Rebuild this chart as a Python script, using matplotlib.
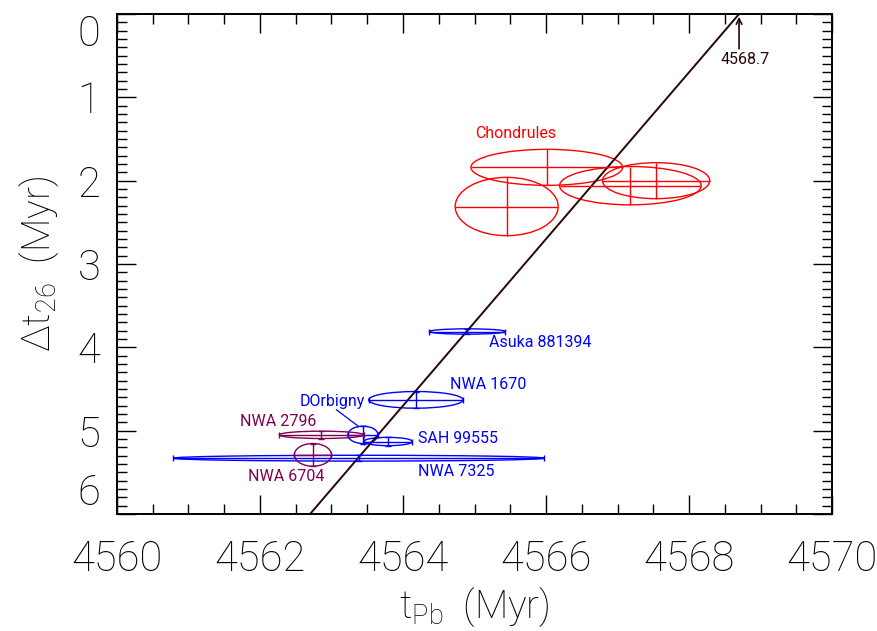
import numpy as np
import matplotlib
matplotlib.use("Agg")
import matplotlib.pyplot as plt
from matplotlib.patches import Ellipse
from matplotlib.ticker import MultipleLocator

plt.rcParams["font.family"] = ["Roboto", "DejaVu Sans"]
plt.rcParams["font.weight"] = "light"
plt.rcParams["axes.labelweight"] = "light"
plt.rcParams["mathtext.default"] = "regular"

# chondrules (red)
chon_tpb = [4566.01, 4565.45, 4567.18, 4567.54]
chon_dt = [1.84, 2.31, 2.06, 2.00]
chon_tpb_err = [1.06, 0.72, 0.99, 0.75]
chon_dt_err = [0.216, 0.35, 0.23, 0.216]

# angrites (blue)
blue_names = ["Asuka 881394", "NWA 1670", "DOrbigny", "SAH 99555", "NWA 7325"]
blue_tpb = [4564.90, 4564.18, 4563.44, 4563.79, 4563.38]
blue_dt = [3.81, 4.63, 5.05, 5.13, 5.33]
blue_tpb_err = [0.53, 0.66, 0.21, 0.34, 2.59]
blue_dt_err = [0.032, 0.10, 0.104, 0.05, 0.035]

# ungrouped achondrites (purple)
purple_names = ["NWA 2796", "NWA 6704"]
purple_tpb = [4562.86, 4562.74]
purple_dt = [5.05, 5.29]
purple_tpb_err = [0.59, 0.26]
purple_dt_err = [0.044, 0.136]

t_cai = 4568.7
line_dt = np.array([0.0, 6.0])
y_ticks = [0, 1, 2, 3, 4, 5, 6]

RED = "#ff0000"
BLUE = "#0000ff"
PURPLE = "#800055"
DARK = "#2a0505"


def draw_group(ax, tpb, dt, tpb_err, dt_err, color, capsize):
    for x, y, ex, ey in zip(tpb, dt, tpb_err, dt_err):
        ax.add_patch(Ellipse((x, y), 2 * ex, 2 * ey, fill=False,
                             edgecolor=color, lw=1.0))
        ax.errorbar(x, y, xerr=ex, yerr=ey, fmt="none", ecolor=color,
                    elinewidth=1.0, capsize=capsize, capthick=1.0)


fig = plt.figure(figsize=(8.77, 6.31), dpi=100)
ax = fig.add_axes([0.1334, 0.1854, 0.8153, 0.7924])

ax.plot(t_cai - line_dt, line_dt, color=DARK, lw=1.4)

draw_group(ax, chon_tpb, chon_dt, chon_tpb_err, chon_dt_err, RED, 0)
draw_group(ax, blue_tpb, blue_dt, blue_tpb_err, blue_dt_err, BLUE, 2)
draw_group(ax, purple_tpb, purple_dt, purple_tpb_err, purple_dt_err, PURPLE, 2)

fs = 11.5
tw = "normal"
ax.text(4565.57, 1.43, "Chondrules", color=RED, fontsize=fs, fontweight=tw,
        ha="center", va="center")

label_pos = {
    "Asuka 881394": (4565.2, 3.94, "left"),
    "NWA 1670": (4564.66, 4.44, "left"),
    "DOrbigny": (4563.47, 4.65, "right"),
    "SAH 99555": (4564.21, 5.09, "left"),
    "NWA 7325": (4564.21, 5.49, "left"),
    "NWA 2796": (4562.25, 4.89, "center"),
    "NWA 6704": (4562.36, 5.55, "center"),
}
for name in blue_names:
    x, y, ha = label_pos[name]
    ax.text(x, y, name, color=BLUE, fontsize=fs, fontweight=tw, ha=ha, va="center")
for name in purple_names:
    x, y, ha = label_pos[name]
    ax.text(x, y, name, color=PURPLE, fontsize=fs, fontweight=tw, ha=ha, va="center")

# leader line for DOrbigny
ax.plot([4563.07, 4563.38], [4.75, 4.95], color=BLUE, lw=0.9)

# arrow marking the CAI age
ax.annotate("", xy=(t_cai, 0.0), xytext=(t_cai, 0.45),
            arrowprops=dict(arrowstyle="->", color=DARK, lw=1.2))
ax.text(t_cai + 0.08, 0.55, f"{t_cai}", color=DARK, fontsize=fs, fontweight=tw,
        ha="center", va="center")

ax.set_xlim(4560, 4570)
ax.set_ylim(6, 0)
ax.xaxis.set_major_locator(MultipleLocator(2))
ax.xaxis.set_minor_locator(MultipleLocator(0.5))
ax.set_yticks(y_ticks)
ax.yaxis.set_minor_locator(MultipleLocator(0.1))
ax.tick_params(which="both", direction="in", top=True, right=True,
               width=1.0, color="black")
ax.tick_params(which="major", length=14, labelsize=30)
ax.tick_params(axis="y", which="major", pad=12)
ax.tick_params(axis="x", which="major", pad=18)
ax.tick_params(which="minor", length=7)
for s in ax.spines.values():
    s.set_linewidth(1.4)

# end labels sit inside the axis range, as in the original
ylabels = ax.get_yticklabels()
ylabels[0].set_va("top")
ylabels[-1].set_va("bottom")

ax.set_xlabel(r"$t_{Pb}$  (Myr)", fontsize=28, labelpad=4)
ax.set_ylabel(r"$\Delta t_{26}$  (Myr)", fontsize=28, labelpad=12)

fig.savefig("out.png", dpi=100)
